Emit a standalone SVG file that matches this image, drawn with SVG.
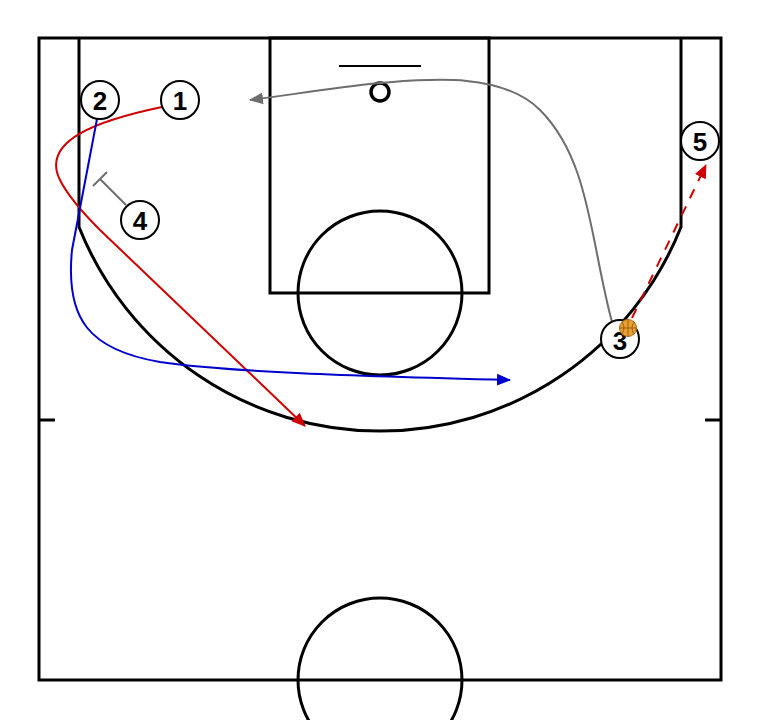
<svg xmlns="http://www.w3.org/2000/svg" width="760" height="720" viewBox="0 0 760 720">
<style>
.court{fill:none;stroke:#000;stroke-width:3}
.pl circle{fill:#fff;stroke:#000;stroke-width:2}
.pl text{font-family:"Liberation Sans",Arial,sans-serif;font-weight:bold;font-size:26px;text-anchor:middle;fill:#000}
.mv{fill:none;stroke-width:2}
</style>
<defs>
<marker id="aR" markerUnits="userSpaceOnUse" markerWidth="14" markerHeight="14" viewBox="0 0 14 14" refX="13" refY="7" orient="auto"><path d="M0,1 L14,7 L0,13 Z" fill="#d00000"/></marker>
<marker id="aB" markerUnits="userSpaceOnUse" markerWidth="14" markerHeight="14" viewBox="0 0 14 14" refX="13" refY="7" orient="auto"><path d="M0,1 L14,7 L0,13 Z" fill="#0000cc"/></marker>
<marker id="aG" markerUnits="userSpaceOnUse" markerWidth="14" markerHeight="14" viewBox="0 0 14 14" refX="13" refY="7" orient="auto"><path d="M0,1 L14,7 L0,13 Z" fill="#6e6e6e"/></marker>
</defs>
<rect width="760" height="720" fill="#fff"/>
<g id="court" class="court">
<rect x="39" y="38" width="682" height="642"/>
<path d="M79,38 L79,227 A324,324 0 0 0 681,227 L681,38"/>
<rect x="270" y="38" width="219" height="255"/>
<circle cx="380" cy="293" r="82"/>
<line x1="339" y1="66" x2="421" y2="66" stroke-width="2"/>
<circle cx="380" cy="92" r="9" stroke-width="3.5"/>
<circle cx="380" cy="680" r="82"/>
<line x1="39" y1="420" x2="55" y2="420"/>
<line x1="705" y1="420" x2="721" y2="420"/>
</g>
<g id="connectors">
<path class="mv" stroke="#d00000" d="M162,107 C100,120 40,140 60,180 C68,196 80,210 100,230 L305,426" marker-end="url(#aR)"/>
<path class="mv" stroke="#0000cc" d="M97,119 L72,250 C65,320 90,350 160,362 C230,372 350,376 510,380" marker-end="url(#aB)"/>
<path class="mv" stroke="#6e6e6e" d="M612,322 C590,240 590,160 540,110 C500,70 420,80 380,83 C330,88 290,95 250,100" marker-end="url(#aG)"/>
<path class="mv" stroke="#6e6e6e" d="M126,205 L100,179 M93,186 L107,172"/>
<path class="mv" stroke="#d00000" stroke-dasharray="10,9" d="M632,318 L706,165" marker-end="url(#aR)"/>
</g>
<g id="p1" class="pl"><circle cx="180" cy="100" r="19"/><text x="180" y="110">1</text></g>
<g id="p2" class="pl"><circle cx="100" cy="100" r="19"/><text x="100" y="110">2</text></g>
<g id="p4" class="pl"><circle cx="140" cy="220" r="19"/><text x="140" y="230">4</text></g>
<g id="p5" class="pl"><circle cx="700" cy="141" r="19"/><text x="700" y="151">5</text></g>
<g id="p3" class="pl"><circle cx="620" cy="339" r="19"/><text x="620" y="350">3</text></g>
<g id="ball">
<circle cx="628" cy="328" r="8.5" fill="#e8a030" stroke="#b06a10" stroke-width="1"/>
<path d="M619.5,328 H636.5 M628,319.5 V336.5 M622,322 Q626,328 622,334 M634,322 Q630,328 634,334" fill="none" stroke="#8a5010" stroke-width="0.8"/>
</g>
</svg>
